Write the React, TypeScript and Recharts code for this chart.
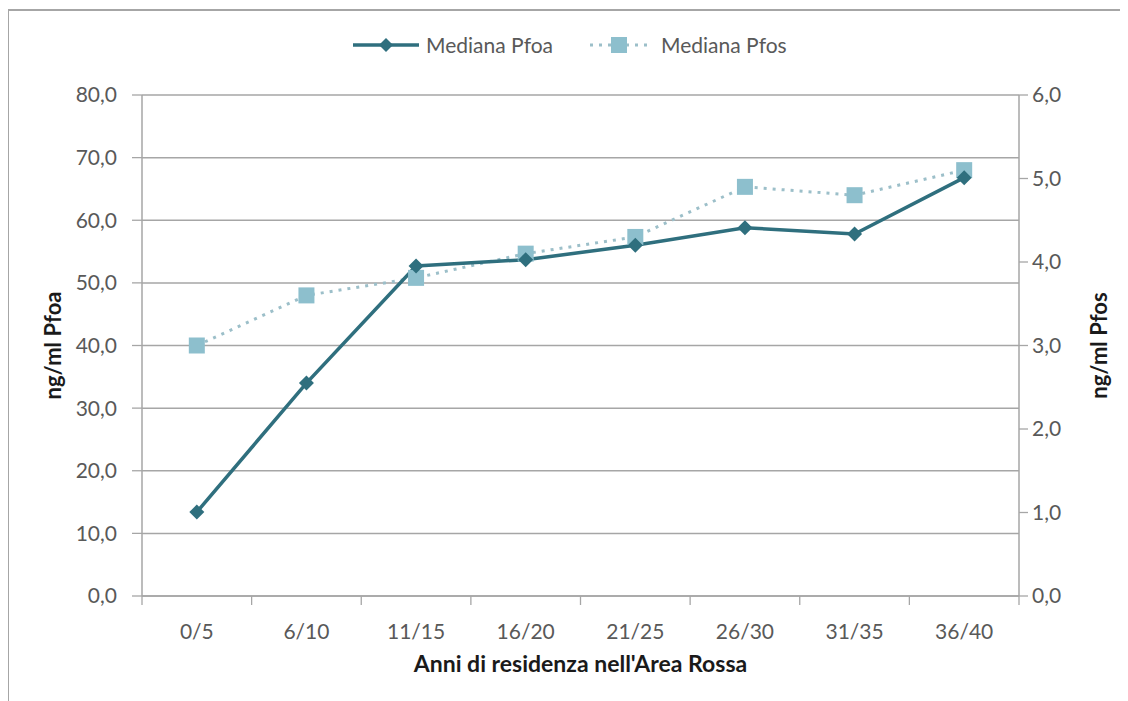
import React from 'react';
import { LineChart, Line, XAxis, YAxis, CartesianGrid, Legend } from 'recharts';

const categories = ['0/5', '6/10', '11/15', '16/20', '21/25', '26/30', '31/35', '36/40'];
const pfoaValues = [13.4, 34.0, 52.7, 53.7, 56.0, 58.8, 57.8, 66.8];
const pfosValues = [3.0, 3.6, 3.81, 4.1, 4.3, 4.9, 4.8, 5.1];
const leftTicks = [0, 10, 20, 30, 40, 50, 60, 70, 80];
const rightTicks = [0, 1, 2, 3, 4, 5, 6];

const data = categories.map((c, i) => ({ cat: c, pfoa: pfoaValues[i], pfos: pfosValues[i] }));

const FONT = 'Lato, "Noto Sans", sans-serif';
const GRID = '#a6a6a6';
const TEXT = '#595959';
const DARK = '#2f6f7e';
const LIGHT = '#8dbfcd';
const DOTLINE = '#9cbfc9';

const fmt = (v: number) => v.toFixed(1).replace('.', ',');

const Diamond = (props: any) => {
  const { cx, cy } = props;
  if (cx == null || cy == null) return null;
  const r = 7.5;
  return <polygon points={`${cx},${cy - r} ${cx + r},${cy} ${cx},${cy + r} ${cx - r},${cy}`} fill={DARK} />;
};

const Square = (props: any) => {
  const { cx, cy } = props;
  if (cx == null || cy == null) return null;
  const s = 16;
  return <rect x={cx - s / 2} y={cy - s / 2} width={s} height={s} fill={LIGHT} />;
};

const XTick = (props: any) => {
  const { x, y, payload, index } = props;
  const off = payload && payload.offset ? payload.offset : 54.8;
  const last = index === categories.length - 1;
  return (
    <g>
      <line x1={x - off} y1={y} x2={x - off} y2={y + 9} stroke={GRID} strokeWidth={1.3} />
      {last && <line x1={x + off} y1={y} x2={x + off} y2={y + 9} stroke={GRID} strokeWidth={1.3} />}
      <text x={x} y={y + 43} textAnchor="middle" fill={TEXT} fontSize={21} fontFamily={FONT}>
        {payload.value}
      </text>
    </g>
  );
};

const LegendContent = () => (
  <div style={{ display: 'flex', justifyContent: 'flex-start', fontFamily: FONT, fontSize: 21, color: TEXT }}>
    <svg width={68} height={22} style={{ marginRight: 6 }}>
      <line x1={1} y1={11} x2={67} y2={11} stroke={DARK} strokeWidth={3.5} />
      <polygon points="34,4 41,11 34,18 27,11" fill={DARK} />
    </svg>
    <span style={{ marginRight: 35, lineHeight: '22px' }}>Mediana Pfoa</span>
    <svg width={62} height={22} style={{ marginRight: 11 }}>
      <line x1={2} y1={11} x2={60} y2={11} stroke={DOTLINE} strokeWidth={3} strokeDasharray="3 6" />
      <rect x={23} y={3} width={16} height={16} fill={LIGHT} />
    </svg>
    <span style={{ lineHeight: '22px' }}>Mediana Pfos</span>
  </div>
);

export default function App() {
  return (
    <div
      style={{
        width: 1120,
        height: 693,
        borderLeft: '2px solid #a6a6a6',
        borderTop: '2px solid #a6a6a6',
        marginTop: 1,
        marginLeft: -1,
        background: '#fff',
      }}
    >
      <LineChart
        width={1110}
        height={690}
        data={data}
        margin={{ top: 62, right: 40, bottom: 45, left: 53 }}
        style={{ fontFamily: FONT }}
      >
        <CartesianGrid yAxisId="left" vertical={false} stroke={GRID} strokeWidth={1.5} />
        <XAxis
          dataKey="cat"
          scale="band"
          tick={<XTick />}
          tickLine={false}
          tickSize={0}
          tickMargin={0}
          height={60}
          axisLine={{ stroke: GRID, strokeWidth: 1.5 }}
          interval={0}
          label={{
            value: "Anni di residenza nell'Area Rossa",
            position: 'insideBottom',
            offset: -16,
            fill: '#1a1a1a',
            fontSize: 23,
            fontWeight: 700,
            fontFamily: FONT,
          }}
        />
        <YAxis
          yAxisId="left"
          domain={[0, 80]}
          ticks={leftTicks}
          tickFormatter={fmt}
          width={80}
          tickSize={10}
          tickMargin={15}
          tick={{ fill: TEXT, fontSize: 21, fontFamily: FONT }}
          tickLine={{ stroke: GRID, strokeWidth: 1.3 }}
          axisLine={{ stroke: GRID, strokeWidth: 1.5 }}
          label={{
            value: 'ng/ml Pfoa',
            angle: -90,
            position: 'insideLeft',
            offset: -9,
            fill: '#1a1a1a',
            fontSize: 22,
            fontWeight: 700,
            fontFamily: FONT,
            style: { textAnchor: 'middle' },
          }}
        />
        <YAxis
          yAxisId="right"
          orientation="right"
          domain={[0, 6]}
          ticks={rightTicks}
          tickFormatter={fmt}
          width={60}
          tickSize={9}
          tickMargin={4}
          tick={{ fill: TEXT, fontSize: 21, fontFamily: FONT }}
          tickLine={{ stroke: GRID, strokeWidth: 1.3 }}
          axisLine={{ stroke: GRID, strokeWidth: 1.5 }}
          label={{
            value: 'ng/ml Pfos',
            angle: -90,
            position: 'insideRight',
            offset: -20,
            fill: '#1a1a1a',
            fontSize: 22,
            fontWeight: 700,
            fontFamily: FONT,
            style: { textAnchor: 'middle' },
          }}
        />
        <Legend
          layout="vertical"
          align="center"
          verticalAlign="top"
          content={<LegendContent />}
          wrapperStyle={{ top: 23, left: 343, width: 600 }}
        />
        <Line
          yAxisId="right"
          dataKey="pfos"
          stroke={DOTLINE}
          strokeWidth={3}
          strokeDasharray="3 6"
          dot={<Square />}
          activeDot={false}
          isAnimationActive={false}
        />
        <Line
          yAxisId="left"
          dataKey="pfoa"
          stroke={DARK}
          strokeWidth={3.5}
          dot={<Diamond />}
          activeDot={false}
          isAnimationActive={false}
        />
      </LineChart>
    </div>
  );
}
